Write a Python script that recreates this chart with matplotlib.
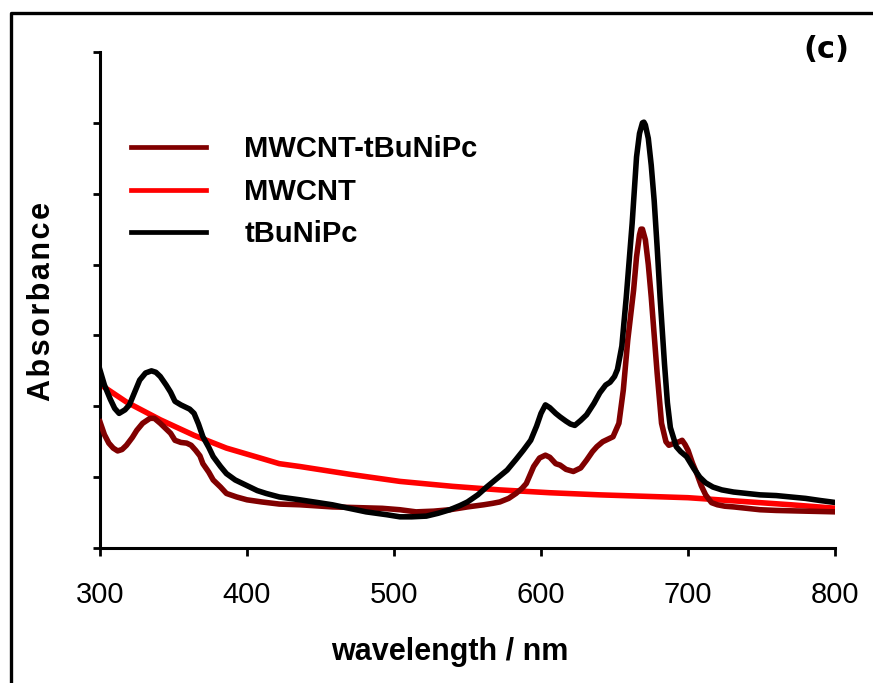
import matplotlib
matplotlib.use("Agg")
import matplotlib.pyplot as plt
from matplotlib.lines import Line2D

FONT = "Liberation Sans"

# tBuNiPc (black)
wl_black = [300, 303, 307, 310, 313, 317, 320, 324, 327, 331, 335, 338, 341, 345, 348, 351, 355, 358, 361, 364,
            367, 370, 374, 377, 382, 386, 392, 400, 407, 413, 422, 436, 458, 481, 495, 504, 512, 522, 530, 538,
            545, 550, 557, 563, 570, 577, 583, 588, 593, 597, 600, 603, 606, 610, 613, 617, 620, 623, 627, 631,
            636, 640, 644, 647, 650, 652, 655, 658, 662, 665, 667, 669, 670, 671, 673, 675, 677, 679, 681, 684,
            686, 688, 692, 695, 699, 704, 708, 712, 717, 723, 731, 740, 749, 760, 770, 780, 790, 801]
ab_black = [2.51, 2.30, 2.10, 1.97, 1.90, 1.95, 2.02, 2.22, 2.37, 2.47, 2.50, 2.48, 2.42, 2.30, 2.20, 2.07, 2.02, 1.99,
            1.96, 1.90, 1.75, 1.57, 1.42, 1.29, 1.15, 1.05, 0.96, 0.88, 0.81, 0.77, 0.72, 0.68, 0.61, 0.51, 0.47,
            0.44, 0.44, 0.45, 0.49, 0.54, 0.60, 0.65, 0.75, 0.86, 0.98, 1.10, 1.25, 1.38, 1.52, 1.72, 1.90, 2.02,
            1.98, 1.90, 1.85, 1.79, 1.75, 1.73, 1.80, 1.88, 2.04, 2.19, 2.30, 2.34, 2.42, 2.52, 2.85, 3.54, 4.58,
            5.52, 5.85, 6.00, 6.01, 5.97, 5.78, 5.40, 4.90, 4.25, 3.54, 2.60, 2.05, 1.70, 1.43, 1.36, 1.29, 1.12,
            1.00, 0.92, 0.86, 0.82, 0.79, 0.77, 0.75, 0.74, 0.72, 0.70, 0.67, 0.64]

# MWCNT (red)
wl_red = [300, 318, 341, 364, 386, 409, 422, 436, 470, 504, 540, 572, 606, 640, 670, 700, 735, 770, 801]
ab_red = [2.31, 2.06, 1.81, 1.59, 1.41, 1.27, 1.19, 1.15, 1.04, 0.94, 0.87, 0.82, 0.78, 0.75, 0.73, 0.71, 0.66,
          0.61, 0.56]

# MWCNT-tBuNiPc (dark red)
wl_dred = [300, 303, 306, 309, 312, 315, 318, 322, 325, 329, 334, 337, 341, 345, 348, 351, 355, 359, 362, 365,
           368, 370, 374, 377, 382, 386, 393, 400, 410, 422, 436, 458, 475, 492, 504, 515, 527, 538, 550, 561,
           567, 572, 578, 583, 587, 590, 595, 599, 603, 606, 610, 613, 617, 622, 627, 631, 635, 638, 642, 646,
           649, 653, 656, 659, 663, 665, 667, 668, 669, 671, 673, 675, 679, 682, 685, 687, 691, 694, 696, 698,
           700, 703, 706, 709, 712, 716, 720, 725, 731, 740, 749, 760, 780, 801]
ab_dred = [1.78, 1.60, 1.48, 1.41, 1.37, 1.39, 1.45, 1.56, 1.66, 1.76, 1.83, 1.83, 1.76, 1.68, 1.62, 1.52, 1.49,
           1.48, 1.45, 1.38, 1.30, 1.19, 1.07, 0.96, 0.86, 0.77, 0.72, 0.68, 0.65, 0.62, 0.61, 0.58, 0.57, 0.56,
           0.54, 0.51, 0.52, 0.54, 0.58, 0.61, 0.63, 0.65, 0.70, 0.77, 0.84, 0.91, 1.15, 1.27, 1.31, 1.28, 1.19,
           1.17, 1.11, 1.08, 1.13, 1.24, 1.36, 1.43, 1.50, 1.54, 1.57, 1.76, 2.23, 2.93, 3.64, 4.11, 4.42, 4.50,
           4.50, 4.35, 4.00, 3.54, 2.47, 1.76, 1.50, 1.45, 1.48, 1.50, 1.52, 1.46, 1.38, 1.20, 1.05, 0.88, 0.75,
           0.64, 0.61, 0.59, 0.58, 0.56, 0.54, 0.53, 0.52, 0.51]

labels = ["MWCNT-tBuNiPc", "MWCNT", "tBuNiPc"]
xticks = [300, 400, 500, 600, 700, 800]
yticks = [0, 1, 2, 3, 4, 5, 6, 7]

fig = plt.figure(figsize=(8.73, 6.83), dpi=100)
ax = fig.add_axes([100 / 873, 1 - 548 / 683, 735 / 873, 496 / 683])

LW = 4.0
l1, = ax.plot(wl_dred, ab_dred, color="#800000", lw=LW, solid_joinstyle="round", zorder=3)
l2, = ax.plot(wl_red, ab_red, color="#ff0000", lw=LW, solid_joinstyle="round", zorder=2)
l3, = ax.plot(wl_black, ab_black, color="black", lw=LW, solid_joinstyle="round", zorder=4)

ax.set_xlim(300, 800)
ax.set_ylim(0, 7)
ax.set_xticks(xticks)
ax.set_yticks(yticks)
ax.set_yticklabels([])
ax.set_xticklabels([str(t) for t in xticks], fontsize=21, family=FONT)
for s in ["top", "right"]:
    ax.spines[s].set_visible(False)
for s in ["left", "bottom"]:
    ax.spines[s].set_linewidth(2.2)
ax.tick_params(axis="both", direction="out", length=6, width=2, pad=18)
ax.tick_params(axis="y", length=5)

leg = ax.legend([l1, l2, l3], labels, frameon=False,
                loc="upper left", bbox_to_anchor=(0.006, 0.885), handlelength=2.6, handletextpad=1.3,
                labelspacing=0.5, prop={"family": FONT, "weight": "bold", "size": 21})
for h in leg.get_lines():
    h.set_linewidth(3.4)

fig.text(42 / 873, 1 - 302 / 683, "A\u200ab\u200as\u200ao\u200ar\u200ab\u200aa\u200an\u200ac\u200ae",
         rotation=90, ha="center", va="center", fontsize=22, fontweight="bold", family=FONT)
fig.text(450 / 873, 1 - 652 / 683, "wavelength / nm", ha="center", va="center",
         fontsize=22, fontweight="bold", family=FONT)
fig.text(826 / 873, 1 - 49 / 683, "(c)", ha="center", va="center",
         fontsize=22, fontweight="bold", family="DejaVu Sans")

# outer frame (top and left edges visible)
fig.add_artist(Line2D([11 / 873, 11 / 873, 1.0], [0.0, 1 - 13 / 683, 1 - 13 / 683],
                      transform=fig.transFigure, color="black", lw=2.4))

fig.savefig("out.png", dpi=100)
